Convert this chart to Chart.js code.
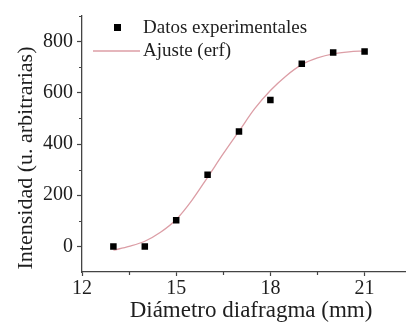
<!DOCTYPE html>
<html>
<head>
<meta charset="utf-8">
<script src="https://cdn.jsdelivr.net/npm/chart.js@4.4.1/dist/chart.umd.min.js"></script>
<style>
  html, body { margin: 0; padding: 0; background: #fff; }
  #wrap { width: 410px; height: 324px; position: relative; }
</style>
</head>
<body>
<div id="wrap"><canvas id="c"></canvas></div>
<script>
// ── Data ─────────────────────────────────────────────────────────────────────

const DIAMETERS  = [13, 14, 15, 16, 17, 18, 19, 20, 21];
const INTENSITY  = [0, 0, 102, 280, 449, 572, 713, 757, 761];

// erf fit curve
const FIT_X = [13, 13.5, 14, 14.5, 15, 15.5, 16, 16.5, 17, 17.5, 18, 18.5, 19, 19.5, 20, 20.5, 21];
const FIT_Y = [-15, 0, 20, 55, 105, 180, 270, 362, 450, 538, 609, 666, 710, 736, 752, 760, 764];

const X_TICKS = [12, 15, 18, 21];
const X_MINOR = [13.5, 16.5, 19.5];
const Y_TICKS = [0, 200, 400, 600, 800];
const Y_MINOR = [100, 300, 500, 700, 900];

const LABEL_POINTS = 'Datos experimentales';
const LABEL_FIT    = 'Ajuste (erf)';
const X_TITLE = 'Diámetro diafragma (mm)';
const Y_TITLE = 'Intensidad (u. arbitrarias)';

// ── Style ────────────────────────────────────────────────────────────────────

const SERIF    = "'Liberation Serif', 'Times New Roman', serif";
const TEXT     = '#1e1e1e';
const AXIS     = '#444';
const FIT_COL  = '#dc9ea6';

// ── Plugins ──────────────────────────────────────────────────────────────────

const extras = {
  id: 'extras',
  afterDraw(chart) {
    const { ctx, scales: { x, y } } = chart;
    const area = chart.chartArea;
    ctx.save();

    // minor ticks
    ctx.strokeStyle = AXIS;
    ctx.lineWidth = 1.2;
    ctx.beginPath();
    Y_MINOR.forEach(v => {
      const py = Math.round(y.getPixelForValue(v)) + 0.5;
      ctx.moveTo(area.left - 3, py);
      ctx.lineTo(area.left, py);
    });
    X_MINOR.forEach(v => {
      const px = Math.round(x.getPixelForValue(v)) + 0.5;
      ctx.moveTo(px, area.bottom);
      ctx.lineTo(px, area.bottom + 3);
    });
    ctx.stroke();

    // axis titles
    ctx.fillStyle = TEXT;
    ctx.font = `23px ${SERIF}`;
    ctx.textAlign = 'center';
    ctx.textBaseline = 'middle';
    ctx.fillText(X_TITLE, 251, 311);
    ctx.font = `22px ${SERIF}`;
    ctx.translate(26, 158);
    ctx.rotate(-Math.PI / 2);
    ctx.fillText(Y_TITLE, 0, 0);
    ctx.setTransform(1, 0, 0, 1, 0, 0);

    // legend
    ctx.fillStyle = '#000';
    ctx.fillRect(114, 24, 7, 7);
    ctx.strokeStyle = FIT_COL;
    ctx.lineWidth = 1.3;
    ctx.beginPath();
    ctx.moveTo(93, 51);
    ctx.lineTo(140, 51);
    ctx.stroke();
    ctx.fillStyle = TEXT;
    ctx.font = `19px ${SERIF}`;
    ctx.textAlign = 'left';
    ctx.fillText(LABEL_POINTS, 143, 28);
    ctx.fillText(LABEL_FIT, 143, 51);
    ctx.restore();
  }
};

// ── Chart ────────────────────────────────────────────────────────────────────

const ctx = document.getElementById('c').getContext('2d');
new Chart(ctx, {
  type: 'scatter',
  data: {
    datasets: [
      {
        label: LABEL_POINTS,
        data: DIAMETERS.map((d, i) => ({ x: d, y: INTENSITY[i] })),
        pointStyle: 'rect',
        pointRadius: 4.6,
        backgroundColor: '#000',
        borderColor: '#000',
        borderWidth: 0,
        order: 0
      },
      {
        label: LABEL_FIT,
        data: FIT_X.map((d, i) => ({ x: d, y: FIT_Y[i] })),
        showLine: true,
        pointRadius: 0,
        borderColor: FIT_COL,
        borderWidth: 1.3,
        cubicInterpolationMode: 'monotone',
        order: 1
      }
    ]
  },
  options: {
    responsive: true,
    maintainAspectRatio: false,
    animation: false,
    layout: { padding: { top: 12, right: 0, left: 0, bottom: 0 } },
    plugins: { legend: { display: false }, tooltip: { enabled: false } },
    scales: {
      x: {
        type: 'linear',
        min: 12, max: 22.3,
        afterBuildTicks: s => { s.ticks = X_TICKS.map(v => ({ value: v })); },
        afterFit: s => { s.height = 52; },
        ticks: { font: { family: SERIF, size: 20 }, color: TEXT, padding: 1, maxRotation: 0 },
        grid: { drawOnChartArea: false, tickLength: 4, tickColor: AXIS, tickWidth: 1.2 },
        border: { color: AXIS, width: 1.3 }
      },
      y: {
        min: -100, max: 900,
        afterBuildTicks: s => { s.ticks = Y_TICKS.map(v => ({ value: v })); },
        afterFit: s => { s.width = 82; },
        ticks: { font: { family: SERIF, size: 20 }, color: TEXT, padding: 4 },
        grid: { drawOnChartArea: false, tickLength: 5, tickColor: AXIS, tickWidth: 1.2 },
        border: { color: AXIS, width: 1.3 }
      }
    }
  },
  plugins: [extras]
});
</script>
</body>
</html>
